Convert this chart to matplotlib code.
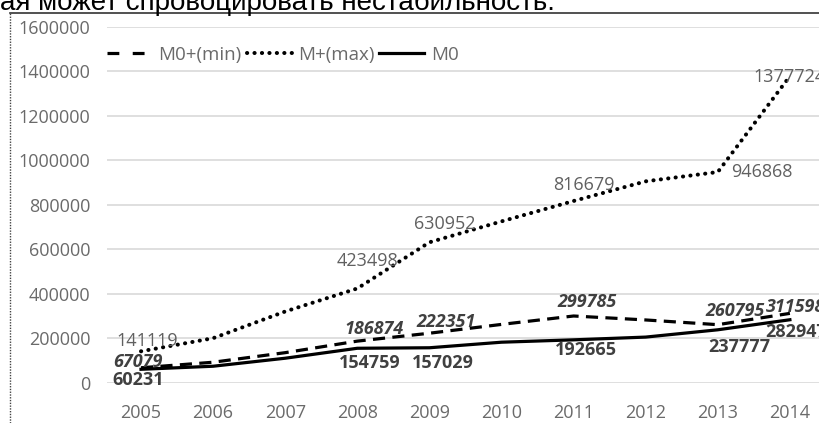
import numpy as np
import matplotlib.pyplot as plt
from matplotlib.lines import Line2D
from matplotlib.ticker import FuncFormatter

years = [2005, 2006, 2007, 2008, 2009, 2010, 2011, 2012, 2013, 2014]
m0_min = [67079, 92000, 135000, 186874, 222351, 262000, 299785, 282000, 260795, 311598]
m_max = [141119, 200000, 320000, 423498, 630952, 725000, 816679, 905000, 946868, 1377724]
m0 = [60231, 74000, 110000, 154759, 157029, 182000, 192665, 205000, 237777, 282947]

# which years carry a data label
labeled_years = [2005, 2008, 2009, 2011, 2013, 2014]
ytick_vals = [0, 200000, 400000, 600000, 800000, 1000000, 1200000, 1400000, 1600000]
header = "ая может спровоцировать нестабильность."

W, H = 820, 423
fig = plt.figure(figsize=(W / 100, H / 100), dpi=100)
fig.patch.set_facecolor("white")

# plot area in pixels: x 107..820, y 26.7..382.7
ax = fig.add_axes([107 / W, 1 - 382.7 / H, (W - 107) / W, (382.7 - 26.7) / H])
px_per_year = 72.1
ax.set_xlim(2005 - 34 / px_per_year, 2005 + (W - 141) / px_per_year)
ax.set_ylim(0, 1600000)
for s in ax.spines.values():
    s.set_visible(False)
ax.set_yticks(ytick_vals)
ax.set_xticks(years)
ax.yaxis.set_major_formatter(FuncFormatter(lambda v, p: f"{int(v)}"))
ax.tick_params(length=0, colors="#6a6a6a", labelsize=13)
ax.tick_params(axis="y", pad=12)
ax.tick_params(axis="x", pad=15)
for t in ax.get_xticklabels() + ax.get_yticklabels():
    t.set_fontfamily("Open Sans")
ax.yaxis.grid(True, color="#d9d9d9", linewidth=1.2)
ax.set_axisbelow(True)

lw = 2.3
dot_style = dict(lw=2.9, linestyle=(0, (0.05, 1.8)), dash_capstyle="round")
dash_style = dict(lw=lw, linestyle=(0, (3.8, 2.3)))
ax.plot(years, m_max, color="black", **dot_style)
ax.plot(years, m0_min, color="black", **dash_style)
ax.plot(years, m0, color="black", lw=lw)

# label offsets in pixels (dx, dy up)
off_max = [(6, 10), (10, 27), (15, 18), (10, 16), (44, 0), (0, -1)]
off_min = [(-3, 6), (17, 12), (17, 11), (13, 14), (17, 14), (6, 6)]
off_m0 = [(-3, -11), (12, -15), (13, -15), (12, -10), (22, -17), (6, -12)]


def put_labels(series, offsets, **kw):
    for yr, (dx, dy) in zip(labeled_years, offsets):
        v = series[years.index(yr)]
        ax.annotate(str(v), (yr, v), xytext=(dx * 0.72, dy * 0.72),
                    textcoords="offset points", ha="center", va="center",
                    fontfamily="Open Sans", fontsize=13, annotation_clip=False, **kw)


put_labels(m_max, off_max, color="#606060")
put_labels(m0_min, off_min, color="#404040", fontweight="bold", fontstyle="italic")
put_labels(m0, off_m0, color="#404040", fontweight="bold")

handles = [
    Line2D([], [], color="black", lw=lw, linestyle=(0, (3.7, 4.2))),
    Line2D([], [], color="black", **dot_style),
    Line2D([], [], color="black", lw=lw),
]
leg = fig.legend(handles, ["M0+(min)", "M+(max)", "M0"], loc="center left",
                 bbox_to_anchor=(107 / W, 1 - 55 / H), ncol=3, frameon=False,
                 handlelength=2.4, handletextpad=0.35, columnspacing=0.25,
                 borderpad=0, borderaxespad=0,
                 prop={"family": "Open Sans", "size": 13.5})
for t in leg.get_texts():
    t.set_color("#6a6a6a")

# document header line and frame
fig.text(0, 1 - 10 / H, header, fontfamily="Liberation Sans", fontsize=20,
         va="baseline", ha="left", color="black")
fig.add_artist(Line2D([10 / W, 1], [1 - 13.3 / H] * 2, color="#333333", lw=1.2))
fig.add_artist(Line2D([10 / W, 10 / W], [0, 1 - 13.3 / H], color="#444444",
                      lw=1.0, linestyle=(0, (1, 1))))

fig.savefig("out.png", dpi=100)
